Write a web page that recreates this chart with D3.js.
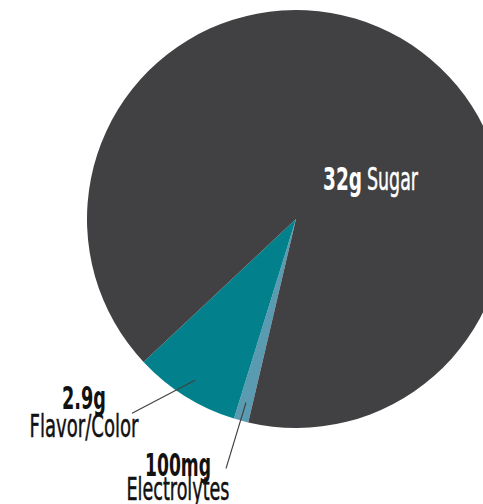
<!DOCTYPE html>
<html lang="en">
<head>
    <meta charset="UTF-8">
    <title>Sports Drink Contents</title>
    <style>
        body {
            margin: 0;
            padding: 0;
            background-color: #fff;
            overflow: hidden;
        }
        text {
            font-family: "DejaVu Sans Condensed", "DejaVu Sans", sans-serif;
        }
    </style>
</head>
<body>
    <div id="chart"></div>

    <script src="https://d3js.org/d3.v7.min.js"></script>
    <script>
        // slices, clockwise from the start angle
        const categories = ['Electrolytes', 'Flavor/Color', 'Sugar'];
        const amounts = [0.4, 2.9, 32];               // slice sizes as drawn
        const amountLabels = ['100mg', '2.9g', '32g'];
        const colors = ['#5b9bb1', '#02808b', '#414042'];

        const width = 483;
        const height = 504;
        const cx = 296, cy = 219;
        const radius = 209;
        const fontSize = '32px';

        const svg = d3.select('#chart')
            .append('svg')
            .attr('width', width)
            .attr('height', height);

        const start = 193.2 * Math.PI / 180;
        const pie = d3.pie().sort(null).value(d => d)
            .startAngle(start)
            .endAngle(start + 2 * Math.PI);

        const arcs = pie(amounts);
        const arc = d3.arc().innerRadius(0).outerRadius(radius);
        const pointArc = d3.arc().innerRadius(radius * 0.91).outerRadius(radius * 0.91);

        const g = svg.append('g').attr('transform', `translate(${cx},${cy})`);

        g.selectAll('path')
            .data(arcs)
            .enter().append('path')
            .attr('d', arc)
            .attr('fill', (d, i) => colors[i]);

        // leader lines + labels for the two small slices
        const small = [
            { i: 1, dx: -63, dy: 33, lx: 84, y1: 409, y2: 437, w1: 44, w2: 109 },
            { i: 0, dx: -20, dy: 66, lx: 178, y1: 476, y2: 500, w1: 66, w2: 103 }
        ];

        small.forEach(s => {
            const p = pointArc.centroid(arcs[s.i]);
            const x0 = cx + p[0], y0 = cy + p[1];
            svg.append('line')
                .attr('x1', x0).attr('y1', y0)
                .attr('x2', x0 + s.dx).attr('y2', y0 + s.dy)
                .attr('stroke', '#414042')
                .attr('stroke-width', 1.1);

            svg.append('text')
                .attr('x', s.lx).attr('y', s.y1)
                .attr('text-anchor', 'middle')
                .attr('font-size', fontSize)
                .attr('font-weight', 'bold')
                .attr('fill', '#111')
                .attr('textLength', s.w1)
                .attr('lengthAdjust', 'spacingAndGlyphs')
                .text(amountLabels[s.i]);

            svg.append('text')
                .attr('x', s.lx).attr('y', s.y2)
                .attr('text-anchor', 'middle')
                .attr('font-size', fontSize)
                .attr('fill', '#111')
                .attr('stroke', '#111')
                .attr('stroke-width', 0.5)
                .attr('textLength', s.w2)
                .attr('lengthAdjust', 'spacingAndGlyphs')
                .text(categories[s.i]);
        });

        // big slice label, inside
        svg.append('text')
            .attr('x', 323).attr('y', 190)
            .attr('font-size', fontSize)
            .attr('font-weight', 'bold')
            .attr('fill', '#fff')
            .attr('textLength', 39)
            .attr('lengthAdjust', 'spacingAndGlyphs')
            .text(amountLabels[2]);
        svg.append('text')
            .attr('x', 367).attr('y', 190)
            .attr('font-size', fontSize)
            .attr('fill', '#fff')
            .attr('stroke', '#fff')
            .attr('stroke-width', 0.5)
            .attr('textLength', 51)
            .attr('lengthAdjust', 'spacingAndGlyphs')
            .text(categories[2]);
    </script>
</body>
</html>
